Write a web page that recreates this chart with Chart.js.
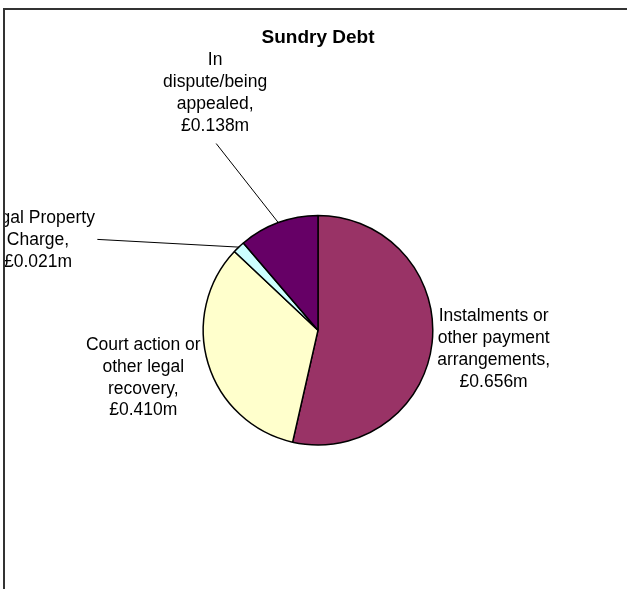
<!DOCTYPE html>
<html>
<head>
<meta charset="utf-8">
<script src="https://cdn.jsdelivr.net/npm/chart.js@4.4.1/dist/chart.umd.min.js"></script>
<style>
  html, body { margin: 0; padding: 0; background: #fff; overflow: hidden; }
  #wrap { position: absolute; left: 0; top: 0; width: 627px; height: 589px; }
  #c { position: absolute; left: 0; top: 0; }
  #frame { position: absolute; left: 3px; top: 8px; width: 700px; height: 700px;
           border-left: 2px solid #333; border-top: 2px solid #333; pointer-events: none; }
  #mask { position: absolute; left: 0; top: 0; width: 3px; height: 589px; background: #fff; }
</style>
</head>
<body>
<div id="wrap">
  <canvas id="c" width="627" height="589"></canvas>
  <div id="mask"></div>
  <div id="frame"></div>
</div>
<script>
// ---- data ----
const chartTitle = 'Sundry Debt';
const categories = [
  'Instalments or other payment arrangements',
  'Court action or other legal recovery',
  'Legal Property Charge',
  'In dispute/being appealed'
];
const values = [0.656, 0.410, 0.021, 0.138];
const valueLabels = ['£0.656m', '£0.410m', '£0.021m', '£0.138m'];
// label text lines (as wrapped in the original)
const labelLines = [
  ['Instalments or', 'other payment', 'arrangements,'],
  ['Court action or', 'other legal', 'recovery,'],
  ['Legal Property', 'Charge,'],
  ['In', 'dispute/being', 'appealed,']
];

// ---- styles / positions ----
const colors = ['#993366', '#FFFFCC', '#CCFFFF', '#660066'];
// label block centers, relative to pie center, in units of outer radius
const labelPos = [[1.53, 0.165], [-1.522, 0.417], [-2.439, -0.783], [-0.896, -2.065]];
// leader line start points (null = no leader)
const leaderStart = [null, null, [-1.922, -0.791], [-0.887, -1.626]];
const FONT = '17.5px "Liberation Sans", Arial, sans-serif';
const LINE_H = 21.7;

const labelPlugin = {
  id: 'outLabels',
  afterDatasetsDraw(chart) {
    const ctx = chart.ctx;
    const meta = chart.getDatasetMeta(0);
    ctx.save();
    meta.data.forEach((arc, i) => {
      const p = arc.getProps(['x', 'y', 'startAngle', 'endAngle', 'outerRadius'], true);
      const R = p.outerRadius;
      const mid = (p.startAngle + p.endAngle) / 2;
      if (leaderStart[i]) {
        const sx = p.x + leaderStart[i][0] * R, sy = p.y + leaderStart[i][1] * R;
        const ex = p.x + Math.cos(mid) * R, ey = p.y + Math.sin(mid) * R;
        ctx.beginPath();
        ctx.strokeStyle = '#000';
        ctx.lineWidth = 1;
        ctx.moveTo(sx, sy);
        ctx.lineTo(ex, ey);
        ctx.stroke();
      }
      const lines = labelLines[i].concat([valueLabels[i]]);
      const cx = p.x + labelPos[i][0] * R;
      const cy = p.y + labelPos[i][1] * R;
      ctx.font = FONT;
      ctx.fillStyle = '#000';
      ctx.textAlign = 'center';
      ctx.textBaseline = 'middle';
      const top = cy - (lines.length - 1) * LINE_H / 2;
      lines.forEach((t, k) => ctx.fillText(t, cx, top + k * LINE_H));
    });
    ctx.restore();
  }
};

new Chart(document.getElementById('c'), {
  type: 'pie',
  data: {
    labels: categories,
    datasets: [{
      data: values,
      backgroundColor: colors,
      borderColor: '#000',
      borderWidth: 1.5,
      borderAlign: 'center'
    }]
  },
  options: {
    responsive: false,
    animation: false,
    events: [],
    layout: { padding: { left: 202.25, right: 193.25, top: 0, bottom: 143.25 } },
    plugins: {
      legend: { display: false },
      tooltip: { enabled: false },
      title: {
        display: true,
        text: chartTitle,
        color: '#000',
        font: { family: '"Liberation Sans", Arial, sans-serif', size: 19, weight: 'bold', lineHeight: 1.2 },
        padding: { top: 26, bottom: 165.85 }
      }
    }
  },
  plugins: [labelPlugin]
});
</script>
</body>
</html>
